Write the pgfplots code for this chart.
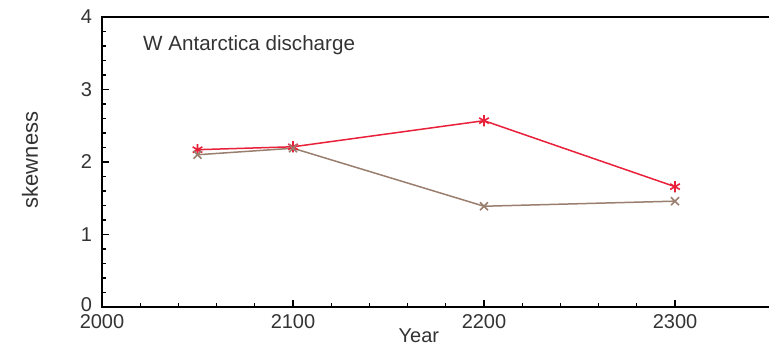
\documentclass[border=0pt]{standalone}
\usepackage{pgfplots}
\pgfplotsset{compat=1.18}
\usepackage{fontspec}
\setmainfont{Liberation Sans}
\definecolor{skred}{HTML}{E8203A}
\definecolor{skbrown}{HTML}{9A7E6E}
\definecolor{labgray}{HTML}{333333}
\begin{document}
\begin{tikzpicture}
\useasboundingbox (0,0) rectangle (384.5pt,172pt);
\begin{axis}[
  at={(51pt,18.5pt)}, anchor=south west,
  scale only axis,
  width=334.25pt, height=145pt,
  xmin=2000, xmax=2350, ymin=0, ymax=4,
  xtick={2000,2100,2200,2300}, ytick={0,1,2,3,4},
  yticklabels={\raisebox{2pt}{0},1,2,3,4},
  minor x tick num=4, minor y tick num=4,
  tick pos=left, tick align=inside,
  major tick length=3.5pt, minor tick length=2pt,
  axis line style={black, line width=0.8pt},
  every tick/.style={black, line width=0.6pt},
  /pgf/number format/assume math mode=true,
  /pgf/number format/1000 sep={},
  tick label style={font=\fontsize{10}{12}\selectfont, text=labgray},
  xticklabel style={anchor=center, yshift=-7.5pt},
  yticklabel style={anchor=east, xshift=-1.5pt},
  ylabel={skewness},
  ylabel style={font=\fontsize{11}{13}\selectfont, text=labgray,
    at={(rel axis cs:0,0.507)}, anchor=center, rotate=0, yshift=36pt},
  xlabel={Year},
  xlabel style={font=\fontsize{10}{12}\selectfont, text=labgray,
    at={(rel axis cs:0.474,0)}, anchor=center, yshift=-14.5pt},
  clip=false,
]
\addplot[skred, line width=0.75pt, mark=asterisk, mark size=2.8pt,
  mark options={line width=0.8pt}]
  coordinates {(2050,2.17) (2100,2.21) (2200,2.57) (2300,1.66)};
\addplot[skbrown, line width=0.75pt, mark=x, mark size=2.8pt,
  mark options={line width=0.8pt}]
  coordinates {(2050,2.10) (2100,2.19) (2200,1.39) (2300,1.46)};
\node[anchor=west, font=\fontsize{10.3}{12}\selectfont, text=labgray, inner sep=0pt]
  at (rel axis cs:0.061,0.903) {W Antarctica discharge};
\end{axis}
\end{tikzpicture}
\end{document}
